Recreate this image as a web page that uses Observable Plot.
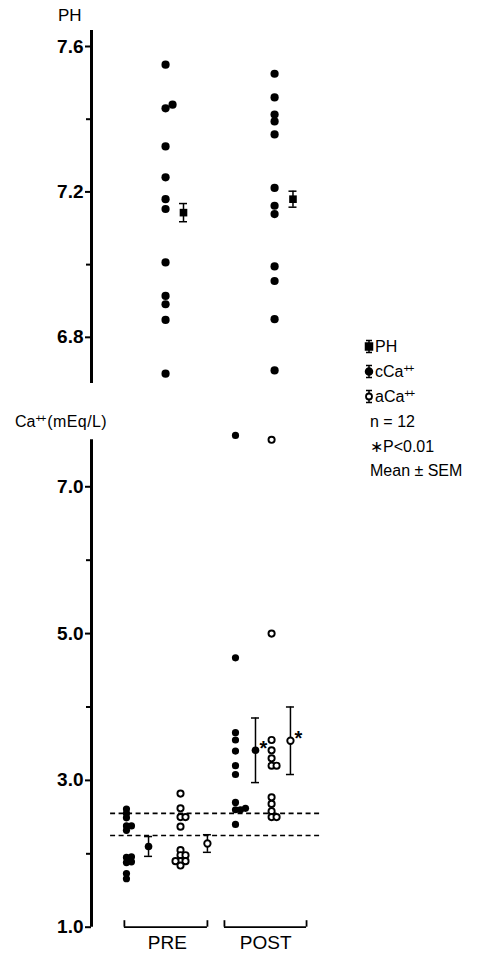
<!DOCTYPE html>
<html><head><meta charset="utf-8">
<script src="https://cdn.jsdelivr.net/npm/d3@7"></script>
<script src="https://cdn.jsdelivr.net/npm/@observablehq/plot@0.6"></script>
<style>
body{margin:0;background:#fff;}
#wrap{position:relative;width:495px;height:955px;font-family:"Liberation Sans",Arial,sans-serif;color:#000;overflow:hidden;}
#wrap svg{position:absolute;left:0;}
</style></head><body><div id="wrap"></div>
<script>
// ---------------- data ----------------
const groups = ["PRE", "POST"];
const phPre  = [7.55, 7.44, 7.43, 7.325, 7.24, 7.18, 7.153, 7.006, 6.914, 6.891, 6.848, 6.70];
const phPost = [7.525, 7.46, 7.413, 7.394, 7.358, 7.211, 7.162, 7.139, 6.995, 6.955, 6.85, 6.709];
const phMean = [7.143, 7.18];
const phSem  = [0.025, 0.022];

const cCaPre  = [2.61, 2.55, 2.49, 2.38, 2.38, 2.32, 1.96, 1.95, 1.89, 1.88, 1.73, 1.66];
const cCaPost = [7.70, 4.67, 3.65, 3.55, 3.40, 3.20, 3.08, 2.70, 2.62, 2.60, 2.60, 2.40];
const aCaPre  = [2.82, 2.62, 2.50, 2.50, 2.37, 2.05, 1.98, 1.98, 1.90, 1.90, 1.90, 1.84];
const aCaPost = [7.64, 5.00, 3.55, 3.41, 3.30, 3.20, 3.20, 2.77, 2.68, 2.58, 2.50, 2.50];
const cCaMean = [2.10, 3.41];
const cCaSem  = [0.135, 0.44];
const aCaMean = [2.14, 3.54];
const aCaSem  = [0.12, 0.46];
const significant = [false, true];   // * P<0.01
const normalRange = [2.25, 2.55];

const phTicks = [6.8, 7.2, 7.6];
const phMinor = [7.0, 7.4];
const caTicks = [1.0, 3.0, 5.0, 7.0];
const caMinor = [2.0, 4.0, 6.0];

const legendLabels = ["PH", "cCa", "aCa", "n = 12", "\u2217P<0.01", "Mean \u00b1 SEM"];

// ---------------- layout (slot units along x) ----------------
const X = {
  ph: {dots: [3.22, 7.96], mean: [4.0, 8.76]},
  c:  {dots: [1.52, 6.26], mean: [2.48, 7.13]},
  a:  {dots: [3.87, 7.83], mean: [5.04, 8.65]},
  bracket: [[1.43, 5.04], [5.78, 9.35]],
  label: [3.3, 7.57],
  dashFrom: 0.83
};
const W = 495, ML = 91, MR = 174, XDOM = [0, 10];
const font = "Liberation Sans, Arial, sans-serif";

function dodge(vals, base, pxPerUnit, gapPx, step, mode) {
  const order = vals.map((v, i) => i).sort((a, b) => vals[a] - vals[b]);
  const cols = new Map();
  const out = new Array(vals.length);
  const seq = mode === "center" ? k => (k % 2 ? (k + 1) / 2 : -k / 2) : k => k;
  for (const i of order) {
    for (let k = 0; ; k++) {
      const c = seq(k);
      const arr = cols.get(c) || [];
      if (arr.every(v => Math.abs(v - vals[i]) * pxPerUnit >= gapPx)) {
        arr.push(vals[i]); cols.set(c, arr);
        out[i] = {x: base + c * step, y: vals[i]};
        break;
      }
    }
  }
  return out;
}

const wrap = document.getElementById("wrap");
const pxPerX = (W - ML - MR) / (XDOM[1] - XDOM[0]);
const capHalf = 4 / pxPerX;

// ---------------- top panel: PH ----------------
const topH = 400, topMT = 30, topMB = 17, phDom = [6.673, 7.644];
const phPx = (topH - topMT - topMB) / (phDom[1] - phDom[0]);
const phDots = [
  ...dodge(phPre, X.ph.dots[0], phPx, 6, 7 / pxPerX, "right"),
  ...dodge(phPost, X.ph.dots[1], phPx, 6, 7 / pxPerX, "right")
];
const phM = groups.map((g, i) => ({x: X.ph.mean[i], m: phMean[i], lo: phMean[i] - phSem[i], hi: phMean[i] + phSem[i]}));

const topPlot = Plot.plot({
  width: W, height: topH, marginLeft: ML, marginRight: MR, marginTop: topMT, marginBottom: topMB,
  x: {domain: XDOM, axis: null},
  y: {domain: phDom},
  style: {fontFamily: font, background: "transparent", overflow: "visible"},
  marks: [
    Plot.ruleX([0], {strokeWidth: 3}),
    Plot.axisY(phTicks, {tickSize: 6, tickPadding: 2, strokeWidth: 2, fontSize: 19, fontWeight: "bold", tickFormat: d3.format(".1f"), label: null}),
    Plot.axisY(phMinor, {tickSize: 5, strokeWidth: 2, tickFormat: () => "", label: null}),
    Plot.dot(phDots, {x: "x", y: "y", r: 4.1, fill: "black"}),
    Plot.ruleX(phM, {x: "x", y1: "lo", y2: "hi", strokeWidth: 1.5}),
    Plot.ruleY(phM, {y: "lo", x1: d => d.x - capHalf, x2: d => d.x + capHalf, strokeWidth: 1.5}),
    Plot.ruleY(phM, {y: "hi", x1: d => d.x - capHalf, x2: d => d.x + capHalf, strokeWidth: 1.5}),
    Plot.dot(phM, {x: "x", y: "m", symbol: "square", r: 4.3, fill: "black"})
  ]
});
topPlot.style.top = "0px";
wrap.appendChild(topPlot);

// ---------------- bottom panel: Ca++ ----------------
const botTop = 400, botH = 555, botMT = 39.3, botMB = 28.3, caDom = [1.0, 7.64];
const caPx = (botH - botMT - botMB) / (caDom[1] - caDom[0]);
const step = 5 / pxPerX;
const cDots = [
  ...dodge(cCaPre, X.c.dots[0], caPx, 3.5, step, "right"),
  ...dodge(cCaPost, X.c.dots[1], caPx, 3.5, step, "right")
];
const aDots = [
  ...dodge(aCaPre, X.a.dots[0], caPx, 3.5, step, "center"),
  ...dodge(aCaPost, X.a.dots[1], caPx, 3.5, step, "right")
];
const cM = groups.map((g, i) => ({x: X.c.mean[i], m: cCaMean[i], lo: cCaMean[i] - cCaSem[i], hi: cCaMean[i] + cCaSem[i], sig: significant[i]}));
const aM = groups.map((g, i) => ({x: X.a.mean[i], m: aCaMean[i], lo: aCaMean[i] - aCaSem[i], hi: aCaMean[i] + aCaSem[i], sig: significant[i]}));
const allM = [...cM, ...aM];
const br = groups.map((g, i) => ({g, x1: X.bracket[i][0], x2: X.bracket[i][1], lx: X.label[i]}));
const bracketUp = 6.5 / caPx;

const botPlot = Plot.plot({
  width: W, height: botH, marginLeft: ML, marginRight: MR, marginTop: botMT, marginBottom: botMB,
  x: {domain: XDOM, axis: null},
  y: {domain: caDom},
  style: {fontFamily: font, background: "transparent", overflow: "visible"},
  marks: [
    Plot.ruleX([0], {strokeWidth: 3}),
    Plot.axisY(caTicks, {tickSize: 6, tickPadding: 2, strokeWidth: 2, fontSize: 19, fontWeight: "bold", tickFormat: d3.format(".1f"), label: null}),
    Plot.axisY(caMinor, {tickSize: 5, strokeWidth: 2, tickFormat: () => "", label: null}),
    Plot.ruleY(normalRange, {x1: X.dashFrom, x2: XDOM[1], strokeWidth: 1.6, strokeDasharray: "5,3.5"}),
    Plot.dot(cDots, {x: "x", y: "y", r: 3.6, fill: "black"}),
    Plot.dot(aDots, {x: "x", y: "y", r: 3.1, fill: "white", stroke: "black", strokeWidth: 1.9}),
    Plot.ruleX(allM, {x: "x", y1: "lo", y2: "hi", strokeWidth: 1.5}),
    Plot.ruleY(allM, {y: "lo", x1: d => d.x - capHalf, x2: d => d.x + capHalf, strokeWidth: 1.5}),
    Plot.ruleY(allM, {y: "hi", x1: d => d.x - capHalf, x2: d => d.x + capHalf, strokeWidth: 1.5}),
    Plot.dot(cM, {x: "x", y: "m", r: 3.8, fill: "black"}),
    Plot.dot(aM, {x: "x", y: "m", r: 3.2, fill: "white", stroke: "black", strokeWidth: 1.9}),
    Plot.text(allM.filter(d => d.sig), {x: "x", y: "m", text: () => "*", dx: 4, dy: -2, textAnchor: "start", fontSize: 20, fontWeight: "bold"}),
    Plot.ruleY(br, {y: caDom[0], x1: "x1", x2: "x2", strokeWidth: 1.8}),
    Plot.ruleX(br, {x: "x1", y1: caDom[0], y2: caDom[0] + bracketUp, strokeWidth: 1.8}),
    Plot.ruleX(br, {x: "x2", y1: caDom[0], y2: caDom[0] + bracketUp, strokeWidth: 1.8}),
    Plot.text(br, {x: "lx", y: caDom[0], text: "g", dy: 16, fontSize: 19})
  ]
});
botPlot.style.top = botTop + "px";
wrap.appendChild(botPlot);

// ---------------- labels & legend ----------------
const ov = d3.select(wrap).append("svg")
  .attr("width", W).attr("height", 955)
  .style("top", "0px").style("font-family", font);

ov.append("text").attr("x", 58).attr("y", 21).attr("font-size", 17).text("PH");
const caL = ov.append("text").attr("x", 15).attr("y", 427).attr("font-size", 16);
caL.append("tspan").text("Ca");
caL.append("tspan").attr("dy", -5).attr("font-size", 11).attr("letter-spacing", -2).text("++");
caL.append("tspan").attr("dy", 5).attr("dx", 3).attr("font-size", 16).attr("letter-spacing", 0.4).text("(mEq/L)");

const baselines = [352, 377, 402, 427, 452, 476];
const lx = 369;
legendLabels.forEach((lab, i) => {
  const yb = baselines[i];
  const cy = yb - 5.5;
  if (i < 3) {
    const g = ov.append("g").attr("stroke", "black").attr("stroke-width", 1.5);
    g.append("line").attr("x1", lx).attr("x2", lx).attr("y1", cy - 6).attr("y2", cy + 6);
    g.append("line").attr("x1", lx - 3).attr("x2", lx + 3).attr("y1", cy - 6).attr("y2", cy - 6);
    g.append("line").attr("x1", lx - 3).attr("x2", lx + 3).attr("y1", cy + 6).attr("y2", cy + 6);
    if (i === 0) g.append("rect").attr("x", lx - 3.5).attr("y", cy - 3.5).attr("width", 7).attr("height", 7).attr("fill", "black");
    if (i === 1) g.append("circle").attr("cx", lx).attr("cy", cy).attr("r", 3.5).attr("fill", "black");
    if (i === 2) g.append("circle").attr("cx", lx).attr("cy", cy).attr("r", 3).attr("fill", "white").attr("stroke-width", 1.8);
    const t = ov.append("text").attr("x", lx + 6).attr("y", yb).attr("font-size", 16);
    t.append("tspan").text(lab);
    if (i > 0) t.append("tspan").attr("dy", -5).attr("font-size", 11).attr("letter-spacing", -2).text("++");
  } else {
    ov.append("text").attr("x", lx + 1).attr("y", yb).attr("font-size", 16).text(lab);
  }
});
</script></body></html>
